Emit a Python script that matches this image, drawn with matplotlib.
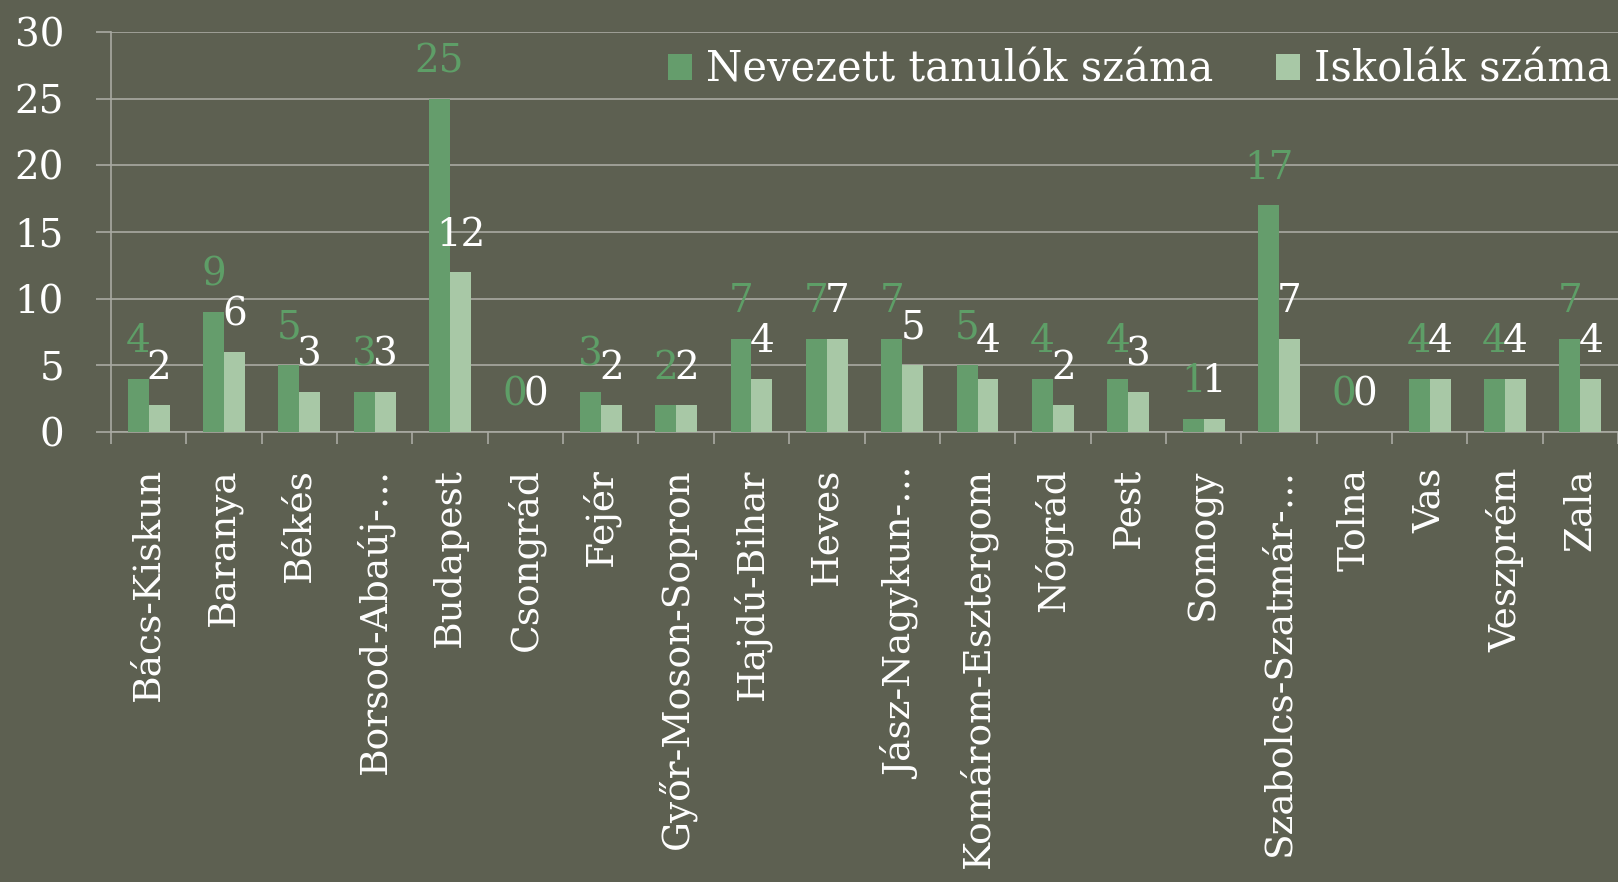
import numpy as np
import matplotlib
matplotlib.use("Agg")
import matplotlib.pyplot as plt

# --- data ---
megyek = ["Bács-Kiskun", "Baranya", "Békés", "Borsod-Abaúj-…", "Budapest",
          "Csongrád", "Fejér", "Győr-Moson-Sopron", "Hajdú-Bihar", "Heves",
          "Jász-Nagykun-…", "Komárom-Esztergom", "Nógrád", "Pest", "Somogy",
          "Szabolcs-Szatmár-…", "Tolna", "Vas", "Veszprém", "Zala"]
tanulok = [4, 9, 5, 3, 25, 0, 3, 2, 7, 7, 7, 5, 4, 4, 1, 17, 0, 4, 4, 7]
iskolak = [2, 6, 3, 3, 12, 0, 2, 2, 4, 7, 5, 4, 2, 3, 1, 7, 0, 4, 4, 4]
y_ticks = [0, 5, 10, 15, 20, 25, 30]

bg = "#5d6051"
c_dark = "#659d6c"
c_light = "#a8c8a6"
c_grid = "#a9aaa2"

plt.rcParams["font.family"] = ["DejaVu Serif", "DejaVu Sans"]

W, H = 1618, 882
fig = plt.figure(figsize=(W / 100, H / 100), dpi=100, facecolor=bg)
step = 75.5
left, right = 111, 1618
bottom, top = 432, 32
ax = fig.add_axes([left / W, 1 - bottom / H, (right - left) / W, (bottom - top) / H])
ax.set_facecolor(bg)

x = np.arange(len(megyek))
bw = 21 / step
ax.bar(x - bw / 2, tanulok, bw, color=c_dark, label="Nevezett tanulók száma", zorder=3)
ax.bar(x + bw / 2, iskolak, bw, color=c_light, label="Iskolák száma", zorder=3)

# value labels: green ones over the dark bars, white ones over the light bars
for xi, v in zip(x - bw / 2, tanulok):
    ax.annotate(str(v), (xi, v), xytext=(0, 19), textcoords="offset points",
                ha="center", va="baseline", fontsize=28, color="#5e9e67", zorder=4)
for xi, v in zip(x + bw / 2, iskolak):
    ax.annotate(str(v), (xi, v), xytext=(0, 19), textcoords="offset points",
                ha="center", va="baseline", fontsize=28, color="white", zorder=5)

ax.set_xlim(-0.5, -0.5 + (right - left) / step)
ax.set_ylim(0, 30)
ax.set_yticks(y_ticks)
ax.tick_params(axis="y", length=15 * 0.72, width=1.2, color=c_grid, pad=23,
               labelsize=28, labelcolor="white")
ax.yaxis.grid(True, color=c_grid, linewidth=1.2, zorder=0)

# category boundaries as major ticks, names on minor ticks
ax.set_xticks(np.arange(len(megyek) + 1) - 0.5)
ax.set_xticklabels([])
ax.tick_params(axis="x", which="major", length=12 * 0.72, width=1.2, color=c_grid)
ax.set_xticks(x, minor=True)
ax.set_xticklabels(megyek, minor=True, rotation=90, fontsize=27, color="white", va="top")
ax.tick_params(axis="x", which="minor", length=0, pad=26)

for s in ["top", "right"]:
    ax.spines[s].set_visible(False)
for s in ["left", "bottom"]:
    ax.spines[s].set_color(c_grid)
    ax.spines[s].set_linewidth(1.2)

leg = ax.legend(loc="center right", bbox_to_anchor=(1612 / W, 1 - 70 / H),
                bbox_transform=fig.transFigure, ncol=2, frameon=False,
                fontsize=30, handlelength=0.58, handleheight=0.58,
                handletextpad=0.34, columnspacing=1.5, borderpad=0, borderaxespad=0)
for t in leg.get_texts():
    t.set_color("white")

fig.savefig("out.png", dpi=100, facecolor=bg)
